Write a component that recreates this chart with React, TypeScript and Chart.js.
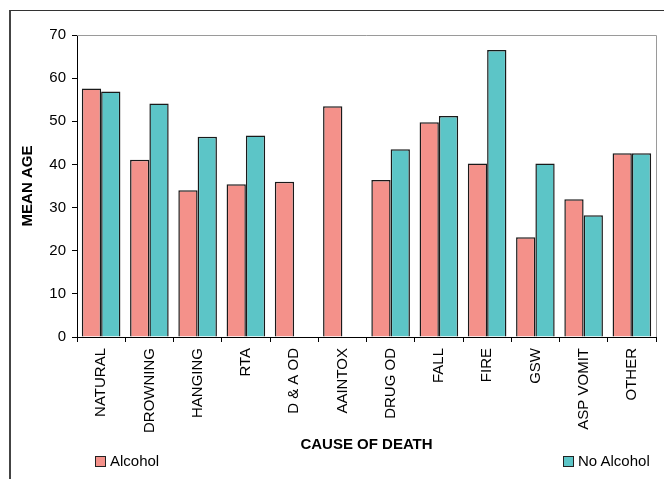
import React, { useEffect, useRef } from "react";
import { Chart, registerables } from "chart.js";

Chart.register(...registerables);

const categories = ["NATURAL", "DROWNING", "HANGING", "RTA", "D & A OD", "AAINTOX", "DRUG OD", "FALL", "FIRE", "GSW", "ASP VOMIT", "OTHER"];
const alcohol = [57.6, 41.1, 34.0, 35.4, 36.0, 53.5, 36.4, 49.8, 40.2, 23.1, 31.9, 42.6];
const noAlcohol = [56.9, 54.1, 46.4, 46.7, null, null, 43.5, 51.2, 66.5, 40.2, 28.2, 42.6];
const seriesNames = ["Alcohol", "No Alcohol"];
const yMin = 0;
const yMax = 70;
const yStep = 10;

const PINK = "#F4918A";
const TEAL = "#5CC5C7";
const FONT = "'Liberation Sans', Arial, sans-serif";

const plotBorder = {
  id: "plotBorder",
  afterDraw(chart: any) {
    const { ctx, chartArea } = chart;
    ctx.save();
    ctx.strokeStyle = "#9a9a9a";
    ctx.lineWidth = 1;
    ctx.beginPath();
    ctx.moveTo(chartArea.left, chartArea.top + 0.5);
    ctx.lineTo(chartArea.right + 0.5, chartArea.top + 0.5);
    ctx.lineTo(chartArea.right + 0.5, chartArea.bottom);
    ctx.stroke();
    ctx.restore();
  },
};

export default function App() {
  const ref = useRef<HTMLCanvasElement>(null);

  useEffect(() => {
    document.body.style.margin = "0";
    const canvas = ref.current!;
    const chart = new Chart(canvas, {
      type: "bar",
      data: {
        labels: categories,
        datasets: [
          { label: seriesNames[0], data: alcohol, backgroundColor: PINK, borderColor: "#1a1a1a", borderWidth: 1.5 },
          { label: seriesNames[1], data: noAlcohol as any, backgroundColor: TEAL, borderColor: "#1a1a1a", borderWidth: 1.5 },
        ],
      },
      options: {
        animation: false,
        responsive: false,
        maintainAspectRatio: false,
        layout: { padding: { left: 0, top: 35, right: 8, bottom: 0 } },
        datasets: { bar: { categoryPercentage: 0.8, barPercentage: 1.0 } },
        plugins: { legend: { display: false }, tooltip: { enabled: false } },
        scales: {
          x: {
            grid: { offset: true, drawOnChartArea: false, tickLength: 5, color: "#000", lineWidth: 1 },
            border: { display: true, color: "#000", width: 1 },
            ticks: { maxRotation: 90, minRotation: 90, autoSkip: false, padding: 6, color: "#000", font: { family: FONT, size: 15 } },
            title: { display: true, text: "CAUSE OF DEATH", color: "#000", font: { family: FONT, size: 15, weight: "bold" }, padding: { top: 0, bottom: 25 } },
            afterFit: (scale: any) => { scale.height = 142; },
          },
          y: {
            min: yMin,
            max: yMax,
            grid: { drawOnChartArea: false, tickLength: 5, color: "#000", lineWidth: 1 },
            border: { display: true, color: "#000", width: 1 },
            ticks: { stepSize: yStep, padding: 6, color: "#000", font: { family: FONT, size: 15 } },
            title: { display: true, text: "MEAN AGE", color: "#000", font: { family: FONT, size: 15, weight: "bold" }, padding: { top: 19, bottom: 0 } },
            afterFit: (scale: any) => { scale.width = 77; },
          },
        },
      },
      plugins: [plotBorder],
    });
    return () => chart.destroy();
  }, []);

  const legendItem = (name: string, color: string, left: number) => (
    <div style={{ position: "absolute", left, top: 453, display: "flex", alignItems: "flex-start", fontFamily: FONT, fontSize: 15, lineHeight: "15px", color: "#000" }}>
      <div style={{ width: 9, height: 9, background: color, border: "1px solid #222", marginTop: 3, marginRight: 4 }} />
      <span>{name}</span>
    </div>
  );

  return (
    <div style={{ position: "fixed", left: 0, top: 0, width: 664, height: 479, background: "#fff", overflow: "hidden" }}>
      <div style={{ position: "absolute", left: 9, top: 10, width: 700, height: 500, borderTop: "1.5px solid #333", borderLeft: "2px solid #444" }} />
      <canvas ref={ref} width={664} height={479} style={{ position: "absolute", left: 0, top: 0, width: 664, height: 479 }} />
      {legendItem(seriesNames[0], PINK, 95)}
      {legendItem(seriesNames[1], TEAL, 563)}
    </div>
  );
}
